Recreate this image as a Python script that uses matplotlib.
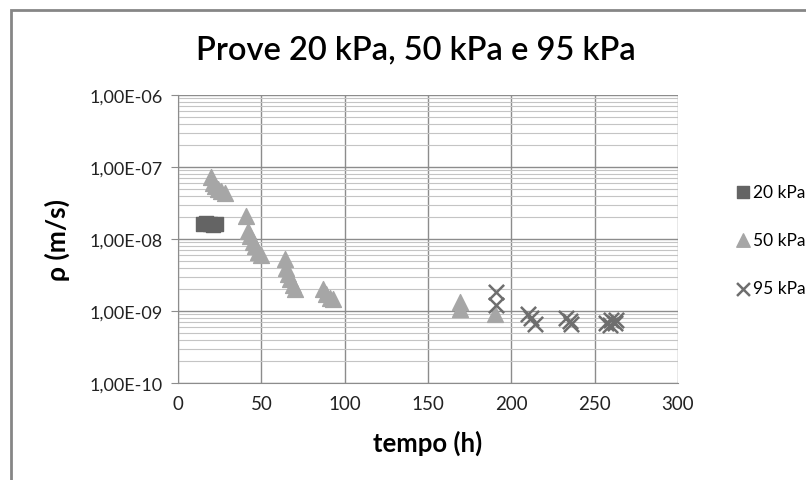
import matplotlib
matplotlib.use("Agg")
import matplotlib.pyplot as plt
from matplotlib.ticker import FuncFormatter, LogLocator
from matplotlib.patches import Rectangle

plt.rcParams['font.family'] = ['Lato', 'DejaVu Sans']

# data
t_20 = [15, 17, 19, 21, 23]
k_20 = [1.6e-8, 1.65e-8, 1.6e-8, 1.55e-8, 1.6e-8]

t_50 = [20, 21, 22, 24, 26, 28,
        41, 42, 43, 45, 46, 48, 50,
        64, 65, 66, 67, 69, 70,
        87, 89, 91, 93,
        169, 169, 190]
k_50 = [7.2e-8, 6.0e-8, 5.4e-8, 5.0e-8, 4.6e-8, 4.4e-8,
        2.1e-8, 1.3e-8, 1.1e-8, 9.0e-9, 8.0e-9, 6.6e-9, 6.0e-9,
        5.2e-9, 4.0e-9, 3.3e-9, 2.8e-9, 2.3e-9, 2.0e-9,
        2.0e-9, 1.7e-9, 1.5e-9, 1.45e-9,
        1.35e-9, 1.05e-9, 9.2e-10]

t_95 = [191, 191, 210, 212, 214, 233, 235, 236,
        257, 259, 260, 262, 263]
k_95 = [1.85e-9, 1.2e-9, 9.2e-10, 8.0e-10, 6.6e-10, 8.0e-10, 7.2e-10, 6.6e-10,
        6.8e-10, 6.4e-10, 7.4e-10, 6.8e-10, 7.6e-10]

fig = plt.figure(figsize=(8.06, 4.81), dpi=100)
# chart frame (cropped on the right and bottom)
fig.patches.append(Rectangle((11/806, -0.05), 1.0, 1 - 11/481 + 0.05,
                             transform=fig.transFigure, fill=False,
                             edgecolor='#868686', linewidth=2))

ax = fig.add_axes([178/806, 1 - 384/481, 500/806, 288/481])

ax.scatter(t_20, k_20, marker='s', s=90, color='#646464', label='20 kPa', zorder=3)
ax.scatter(t_50, k_50, marker='^', s=130, color='#a6a6a6', label='50 kPa', zorder=3)
ax.scatter(t_95, k_95, marker='x', s=120, color='#6e6e6e', linewidths=1.8,
           label='95 kPa', zorder=4)

ax.set_yscale('log')
ax.set_ylim(1e-10, 1e-6)
ax.set_xlim(0, 300)
ax.set_xticks(range(0, 301, 50))
ax.yaxis.set_major_locator(LogLocator(base=10, numticks=10))
ax.yaxis.set_minor_locator(LogLocator(base=10, subs=range(2, 10), numticks=50))
ax.yaxis.set_major_formatter(FuncFormatter(lambda v, p: ('%.2E' % v).replace('.', ',')))
ax.yaxis.set_minor_formatter(FuncFormatter(lambda v, p: ''))

ax.grid(True, which='major', color='#8c8c8c', linewidth=1)
ax.grid(True, which='minor', axis='y', color='#c4c4c4', linewidth=0.8)
ax.set_axisbelow(True)

for s in ['top', 'right']:
    ax.spines[s].set_visible(False)
for s in ['left', 'bottom']:
    ax.spines[s].set_color('#8c8c8c')
ax.tick_params(colors='#222222', which='both')
ax.tick_params(axis='y', which='major', length=5, color='#8c8c8c', labelsize=13, pad=6)
ax.tick_params(axis='y', which='minor', length=0)
ax.tick_params(axis='x', length=0, labelsize=13.5, pad=9)

ax.set_xlabel('tempo (h)', fontsize=18.5, fontweight='bold', labelpad=12)
ax.set_ylabel('ρ (m/s)', fontsize=19, fontweight='bold', labelpad=14)
fig.text(416/806, 1 - 50/481, 'Prove 20 kPa, 50 kPa e 95 kPa', fontsize=23.5,
         fontweight='semibold', ha='center', va='center')

ax.legend(loc='center right', bbox_to_anchor=(1.0, 1 - 241/481),
          bbox_transform=fig.transFigure, frameon=False,
          fontsize=12.5, handletextpad=0.05, handlelength=1.0,
          labelspacing=1.85, markerscale=0.85, borderaxespad=0, borderpad=0.05)

fig.savefig('out.png', dpi=100)
